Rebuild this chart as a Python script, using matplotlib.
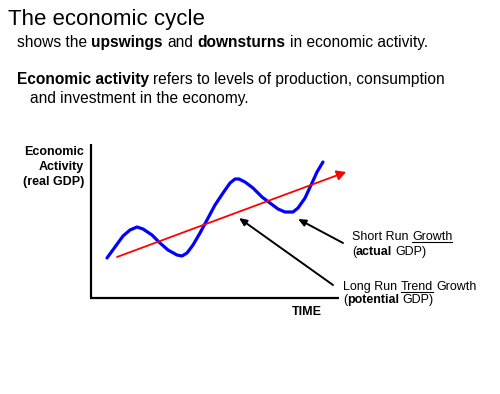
import matplotlib
matplotlib.use("Agg")
import matplotlib.pyplot as plt

plt.rcParams["font.family"] = ["Liberation Sans", "DejaVu Sans"]

# blue "actual GDP" wave (pixel space, y down)
wave_x = [107, 115, 123, 130, 137, 143, 152, 160, 168, 177, 182, 187, 193, 200,
          207, 215, 223, 230, 235, 239, 245, 253, 262, 270, 278, 285, 293, 298,
          305, 312, 317, 323]
wave_y = [258, 247, 236, 230, 227, 229, 235, 243, 250, 255, 256, 253, 245, 233,
          220, 205, 193, 183, 179, 179, 182, 188, 197, 203, 209, 212, 212, 208,
          198, 183, 172, 162]

# red trend arrow: start -> tip
trend_x = [117, 346]
trend_y = [257, 172]

# black pointer arrows: (tail, head)
pointers = [((343, 243), (298, 219)),
            ((333, 285), (239, 218))]

title = "The economic cycle"
line1 = [("shows the ", False, False), ("upswings", True, False), (" and ", False, False),
         ("downsturns", True, False), (" in economic activity.", False, False)]
line2 = [("Economic activity", True, False),
         (" refers to levels of production, consumption", False, False)]
line3 = [("and investment in the economy.", False, False)]
ylabel = ["Economic", "Activity", "(real GDP)"]
short_run = [[("Short Run ", False, False), ("Growth", False, True)],
             [("(", False, False), ("actual", True, False), (" GDP)", False, False)]]
long_run = [[("Long Run ", False, False), ("Trend", False, True), (" Growth", False, False)],
            [("(", False, False), ("potential", True, False), (" GDP)", False, False)]]


def rich(ax, x, y, parts, size):
    # write pieces one after another, pixel units = data units here
    r = ax.figure.canvas.get_renderer()
    px = size * 100 / 72.0
    for s, bold, under in parts:
        lead = len(s) - len(s.lstrip(" "))
        trail = len(s) - len(s.rstrip(" "))
        x += lead * 0.278 * px
        core = s.strip(" ")
        t = ax.text(x, y, core, fontsize=size, fontweight="bold" if bold else "normal",
                    va="baseline", ha="left")
        w = t.get_window_extent(renderer=r).width
        if under:
            ax.plot([x, x + w], [y + 1.5, y + 1.5], color="black", lw=0.8)
        x += w + trail * 0.278 * px


fig = plt.figure(figsize=(5, 3.94), dpi=100)
ax = fig.add_axes([0, 0, 1, 1])
ax.set_xlim(0, 500)
ax.set_ylim(394, 0)
ax.axis("off")

ax.text(8, 25, title, fontsize=16, va="baseline")
rich(ax, 17, 46.5, line1, 11.2)
rich(ax, 17, 83.5, line2, 11.2)
rich(ax, 30, 102.5, line3, 11.2)

# axes of the sketch
ax.plot([91, 91], [144, 298], color="black", lw=1.6, solid_capstyle="butt")
ax.plot([90, 339], [298, 298], color="black", lw=1.6, solid_capstyle="butt")

for i, s in enumerate(ylabel):
    ax.text(84, [155, 169.5, 185][i], s, fontsize=9, fontweight="bold",
            ha="right", va="baseline")
ax.text(307, 315, "TIME", fontsize=9, fontweight="bold", ha="center", va="baseline")

ax.plot(wave_x, wave_y, color="#0000ff", lw=2.3, solid_capstyle="round")
ax.annotate("", xy=(trend_x[1], trend_y[1]), xytext=(trend_x[0], trend_y[0]),
            arrowprops=dict(arrowstyle="-|>,head_length=0.45,head_width=0.25",
                            color="#ff0000", lw=1.3, mutation_scale=12,
                            shrinkA=0, shrinkB=0))

for tail, head in pointers:
    ax.annotate("", xy=head, xytext=tail,
                arrowprops=dict(arrowstyle="-|>,head_length=0.45,head_width=0.2",
                                color="black", lw=1.4, mutation_scale=10,
                                shrinkA=0, shrinkB=0))

rich(ax, 352, 240, short_run[0], 9)
rich(ax, 352, 254.5, short_run[1], 9)
rich(ax, 343, 290, long_run[0], 9)
rich(ax, 343, 303.5, long_run[1], 9)

fig.savefig("out.png", dpi=100)
